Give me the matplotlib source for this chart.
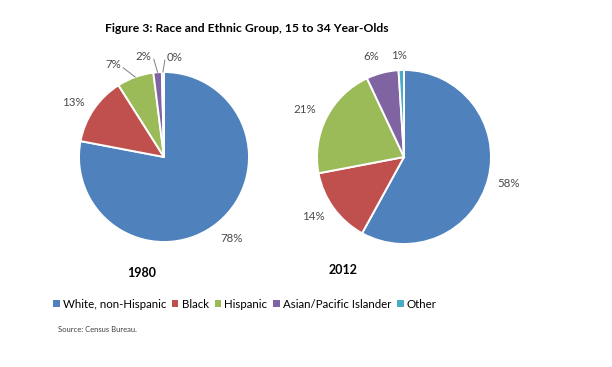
import numpy as np
import matplotlib
matplotlib.use("Agg")
import matplotlib.pyplot as plt
from matplotlib.patches import Patch

plt.rcParams['font.family'] = ['Lato', 'DejaVu Sans']

categories = ["White, non-Hispanic", "Black", "Hispanic", "Asian/Pacific Islander", "Other"]
colors = ["#4F81BD", "#C0504D", "#9BBB59", "#8064A2", "#4BACC6"]
values_1980 = [78.0, 13.0, 7.0, 1.6, 0.4]
labels_1980 = ["78%", "13%", "7%", "2%", "0%"]
values_2012 = [58.0, 14.0, 21.0, 6.0, 1.0]
labels_2012 = ["58%", "14%", "21%", "6%", "1%"]
years = ["1980", "2012"]

W, H = 612, 367
fig = plt.figure(figsize=(W / 100, H / 100), dpi=100)
fig.patch.set_facecolor("white")

LABEL_COLOR = "#4a4a4a"


def pie_axes(cx, cy, r):
    return fig.add_axes([(cx - r) / W, 1 - (cy + r) / H, 2 * r / W, 2 * r / H])


def draw(ax, vals, labs, label_pos):
    wedges, _ = ax.pie(vals, colors=colors, startangle=90, counterclock=False,
                       radius=1.0, wedgeprops=dict(edgecolor="white", linewidth=1.4))
    ax.set_xlim(-1, 1)
    ax.set_ylim(-1, 1)
    ax.set_aspect("auto")
    ax.axis("off")
    for w, lab, pos in zip(wedges, labs, label_pos):
        mid = np.deg2rad((w.theta1 + w.theta2) / 2)
        if pos is None:
            d = 1.24
            x, y = d * np.cos(mid), d * np.sin(mid)
            ax.text(x, y, lab, ha="center", va="center", fontsize=8.3, color=LABEL_COLOR)
        else:
            ang, d, lead = pos
            a = np.deg2rad(ang)
            x, y = d * np.cos(a), d * np.sin(a)
            ax.text(x, y, lab, ha="center", va="center", fontsize=8.3, color=LABEL_COLOR)
            if lead is not None:
                x0, y0 = 1.0 * np.cos(mid), 1.0 * np.sin(mid)
                ax.plot([lead[0], x0], [lead[1], y0], color="#7f7f7f", lw=0.7,
                        clip_on=False)


ax1 = pie_axes(164, 157, 85)
draw(ax1, values_1980, labels_1980,
     [None, (148.9, 1.25, None), (119, 1.24, (-0.48, 1.05)),
      (101.7, 1.21, (-0.12, 1.15)), (83.7, 1.18, (0.01, 1.14))])
ax2 = pie_axes(404, 157, 87)
draw(ax2, values_2012, labels_2012,
     [None, (-146.6, 1.25, None), (154.6, 1.26, None),
      (108, 1.21, None), (92.8, 1.17, None)])

fig.text(247 / W, 1 - 29 / H, "Figure 3: Race and Ethnic Group, 15 to 34 Year-Olds",
         ha="center", va="center", fontsize=8.7, fontweight="bold", color="#000000")
fig.text(142 / W, 1 - 273 / H, years[0], ha="center", va="center", fontsize=9,
         fontweight="bold")
fig.text(343 / W, 1 - 270 / H, years[1], ha="center", va="center", fontsize=9,
         fontweight="bold")

handles = [Patch(facecolor=c, edgecolor="none") for c in colors]
fig.legend(handles, categories, loc="center", bbox_to_anchor=(245 / W, 1 - 304 / H),
           ncol=5, frameon=False, fontsize=8.3, handlelength=0.55, handleheight=0.55,
           handletextpad=0.3, columnspacing=0.5, borderaxespad=0)
fig.text(58 / W, 1 - 329 / H, "Source: Census Bureau.", ha="left", va="center",
         fontsize=5.5, color="#404040")

fig.savefig("out.png", dpi=100, facecolor="white")
